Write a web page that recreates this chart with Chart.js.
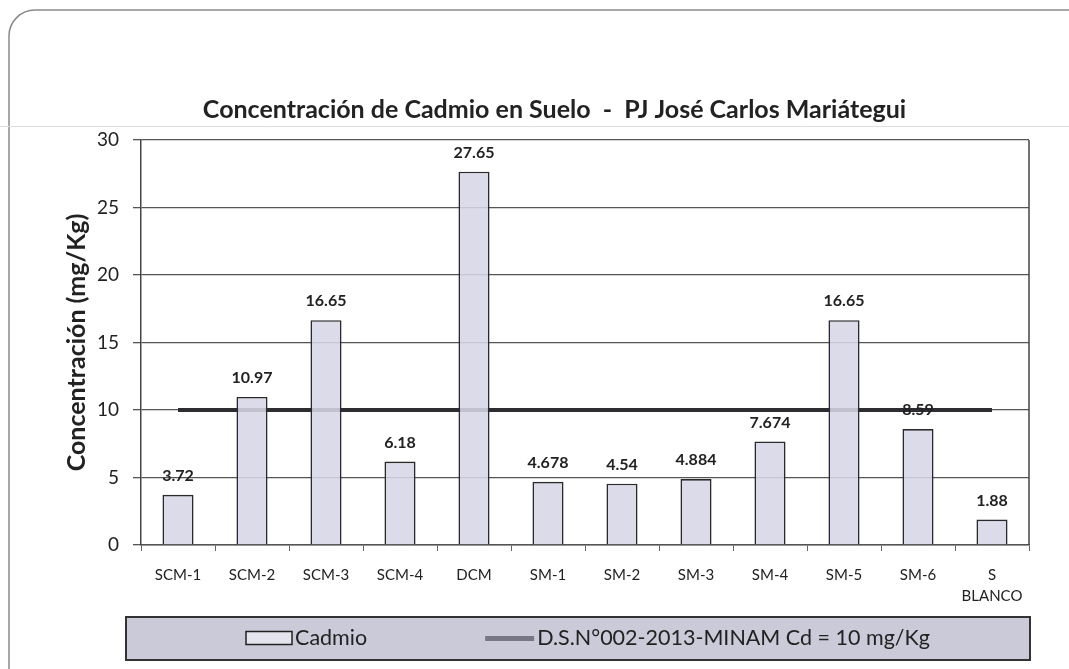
<!DOCTYPE html>
<html>
<head>
<meta charset="utf-8">
<script src="https://cdn.jsdelivr.net/npm/chart.js@4/dist/chart.umd.min.js"></script>
<style>
html,body{margin:0;padding:0;background:#fff;}
#wrap{width:1069px;height:669px;position:relative;}
</style>
</head>
<body>
<div id="wrap"><canvas id="c" width="1069" height="669"></canvas></div>
<script>
const categories = ['SCM-1','SCM-2','SCM-3','SCM-4','DCM','SM-1','SM-2','SM-3','SM-4','SM-5','SM-6',['S','BLANCO']];
const cadmioValues = [3.72, 10.97, 16.65, 6.18, 27.65, 4.678, 4.54, 4.884, 7.674, 16.65, 8.59, 1.88];
const limitValues = [10, 10, 10, 10, 10, 10, 10, 10, 10, 10, 10, 10];
const yTicks = [0, 5, 10, 15, 20, 25, 30];
const titleText = 'Concentración de Cadmio en Suelo  -  PJ José Carlos Mariátegui';
const yTitleText = 'Concentración (mg/Kg)';
const seriesNames = ['Cadmio', 'D.S.N°002-2013-MINAM Cd = 10 mg/Kg'];

const FONT = 'Lato, "Open Sans", sans-serif';

const framePlugin = {
  id: 'frame',
  beforeDraw(chart) {
    const ctx = chart.ctx;
    ctx.save();
    ctx.fillStyle = '#ffffff';
    ctx.fillRect(0, 0, chart.width, chart.height);
    ctx.strokeStyle = '#8a8a8a';
    ctx.lineWidth = 1.5;
    ctx.beginPath();
    ctx.roundRect(9, 10, 1090, 690, 26);
    ctx.stroke();
    ctx.strokeStyle = '#dedede';
    ctx.lineWidth = 1;
    ctx.beginPath();
    ctx.moveTo(0, 126.5);
    ctx.lineTo(chart.width, 126.5);
    ctx.stroke();
    ctx.restore();
  },
  afterDraw(chart) {
    const ctx = chart.ctx;
    const a = chart.chartArea;
    ctx.save();
    ctx.strokeStyle = '#444';
    ctx.lineWidth = 1.5;
    ctx.beginPath();
    ctx.moveTo(a.right, a.top);
    ctx.lineTo(a.right, a.bottom);
    ctx.stroke();

    const bx = 126, by = 617, bw = 904, bh = 43;
    ctx.fillStyle = '#cacad8';
    ctx.fillRect(bx, by, bw, bh);
    ctx.strokeStyle = '#333';
    ctx.lineWidth = 2;
    ctx.strokeRect(bx, by, bw, bh);

    ctx.font = '21.5px ' + FONT;
    ctx.textBaseline = 'middle';
    ctx.textAlign = 'left';
    const sw = 46, gap = 3, itemGap = 118, lw = 49;
    const t1 = ctx.measureText(seriesNames[0]).width;
    const t2 = ctx.measureText(seriesNames[1]).width;
    const total = sw + gap + t1 + itemGap + lw + gap + t2;
    let x = bx + bw / 2 - total / 2 + 10;
    const cy = by + bh / 2;
    ctx.fillStyle = '#e4e4ee';
    ctx.fillRect(x, cy - 7, sw, 13);
    ctx.strokeStyle = '#222';
    ctx.lineWidth = 1.5;
    ctx.strokeRect(x, cy - 7, sw, 13);
    x += sw + gap;
    ctx.fillStyle = '#222';
    ctx.fillText(seriesNames[0], x, cy);
    x += t1 + itemGap;
    ctx.strokeStyle = '#777786';
    ctx.lineWidth = 5;
    ctx.beginPath();
    ctx.moveTo(x, cy);
    ctx.lineTo(x + lw, cy);
    ctx.stroke();
    x += lw + gap;
    ctx.fillStyle = '#222';
    ctx.fillText(seriesNames[1], x, cy);
    ctx.restore();
  }
};

const valueLabelPlugin = {
  id: 'valueLabels',
  afterDatasetsDraw(chart) {
    const ctx = chart.ctx;
    const meta = chart.getDatasetMeta(0);
    ctx.save();
    ctx.font = 'bold 16px ' + FONT;
    ctx.fillStyle = '#222';
    ctx.textAlign = 'center';
    ctx.textBaseline = 'middle';
    meta.data.forEach((el, i) => {
      ctx.fillText(String(cadmioValues[i]), el.x, el.y - 19);
    });
    ctx.restore();
  }
};

new Chart(document.getElementById('c'), {
  data: {
    labels: categories,
    datasets: [
      {
        type: 'bar',
        label: seriesNames[0],
        data: cadmioValues,
        backgroundColor: 'rgba(214,214,230,0.88)',
        borderColor: '#2a2a2a',
        borderWidth: 1.6,
        barPercentage: 0.42,
        categoryPercentage: 1.0,
        order: 0
      },
      {
        type: 'line',
        label: seriesNames[1],
        data: limitValues,
        borderColor: '#2e2e32',
        borderWidth: 4,
        pointRadius: 0,
        fill: false,
        order: 1
      }
    ]
  },
  options: {
    responsive: false,
    animation: false,
    devicePixelRatio: 1,
    layout: { padding: { left: 80, right: 40, top: 0, bottom: 0 } },
    plugins: {
      legend: { display: false },
      tooltip: { enabled: false },
      title: {
        display: true,
        text: titleText,
        color: '#222',
        font: { family: FONT, size: 25, weight: 'bold', lineHeight: 1.2 },
        padding: { top: 95, bottom: 15 }
      }
    },
    scales: {
      x: {
        offset: true,
        grid: { offset: true, drawOnChartArea: false, drawTicks: true, tickLength: 6, color: '#666', lineWidth: 1 },
        border: { display: true, color: '#555', width: 1.5 },
        ticks: { color: '#222', font: { family: FONT, size: 15, lineHeight: 1.45 }, padding: 13, maxRotation: 0, autoSkip: false },
        afterFit(scale) { scale.height = 124; }
      },
      y: {
        min: 0, max: 30,
        afterBuildTicks(scale) { scale.ticks = yTicks.map(v => ({ value: v })); },
        grid: { color: '#555', lineWidth: 1.3, tickLength: 8, tickColor: '#555' },
        border: { display: true, color: '#444', width: 1.5 },
        ticks: { color: '#222', font: { family: FONT, size: 19 }, padding: 14 },
        title: {
          display: true,
          text: yTitleText,
          color: '#222',
          font: { family: FONT, size: 25, weight: 'bold', lineHeight: 1.2 },
          padding: { top: -18, bottom: 0 }
        },
        afterFit(scale) { scale.width = 61; }
      }
    }
  },
  plugins: [framePlugin, valueLabelPlugin]
});
</script>
</body>
</html>
